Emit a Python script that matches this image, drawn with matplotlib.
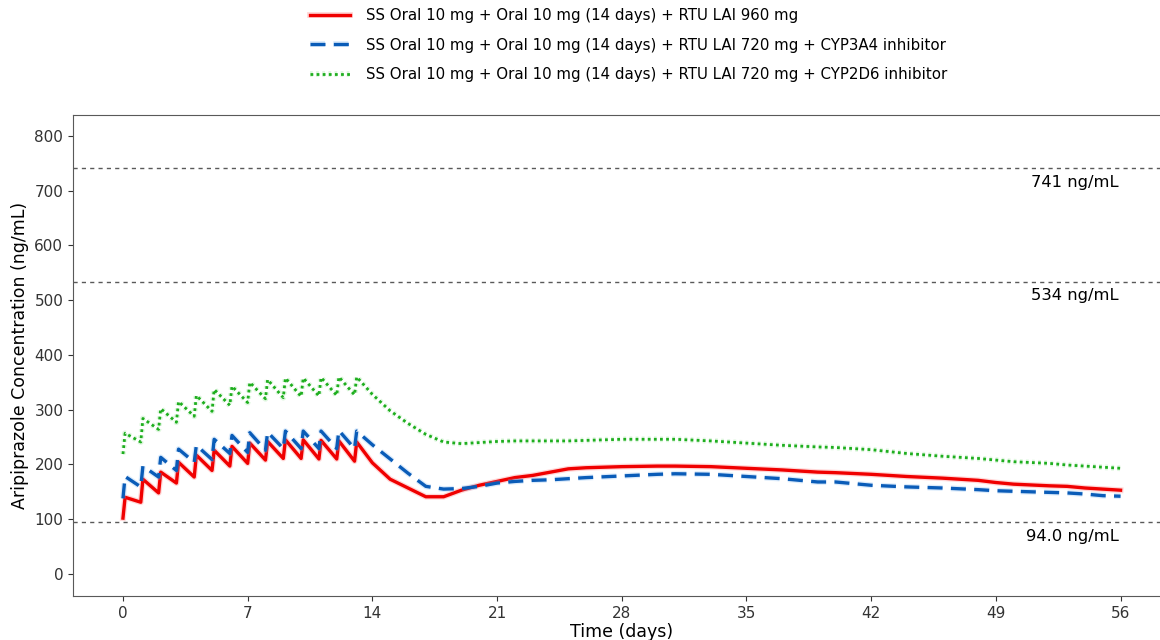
import matplotlib
matplotlib.use('Agg')
import matplotlib.pyplot as plt
import matplotlib.patheffects as pe

# time points: daily oral doses (trough, then peak just after dose), then LAI phase
days = [0, 0.12, 1, 1.12, 2, 2.12, 3, 3.12, 4, 4.12, 5, 5.12, 6, 6.12,
        7, 7.12, 8, 8.12, 9, 9.12, 10, 10.12, 11, 11.12, 12, 12.12, 13, 13.12,
        14, 15, 16, 17, 18, 19, 20, 21, 22, 23, 24, 25, 26, 28, 30, 31, 33,
        35, 37, 39, 40, 42, 44, 46, 48, 49, 50, 52, 53, 54, 55, 56]

lai_960 = [102, 140, 131, 173, 148, 186, 166, 204, 177, 217, 189, 226, 197, 233,
           202, 239, 208, 242, 211, 245, 211, 245, 210, 244, 210, 243, 206, 241,
           203, 173, 157, 141, 141, 153, 162, 169, 176, 180, 186, 192, 194, 196, 197, 197, 196,
           193, 190, 186, 185, 182, 178, 175, 171, 167, 164, 161, 160, 157, 155, 153]

lai_720_3a4 = [138, 178, 159, 197, 177, 213, 189, 228, 204, 235, 209, 246, 220, 253,
               222, 258, 226, 259, 229, 261, 229, 261, 229, 261, 229, 262, 229, 261,
               236, 210, 184, 160, 155, 156, 160, 166, 169, 171, 172, 174, 176, 179, 182, 183, 182,
               178, 174, 168, 168, 162, 159, 157, 154, 152, 151, 149, 148, 146, 143, 142]

lai_720_2d6 = [219, 257, 241, 284, 264, 302, 277, 315, 288, 326, 297, 337, 308, 343,
               313, 350, 320, 355, 322, 358, 324, 358, 325, 359, 326, 360, 327, 360,
               328, 298, 275, 255, 241, 238, 240, 242, 243, 243, 243, 243, 244, 246, 246, 246, 243,
               239, 235, 232, 231, 227, 220, 215, 211, 208, 205, 202, 199, 197, 195, 193]

labels = ['SS Oral 10 mg + Oral 10 mg (14 days) + RTU LAI 960 mg',
          'SS Oral 10 mg + Oral 10 mg (14 days) + RTU LAI 720 mg + CYP3A4 inhibitor',
          'SS Oral 10 mg + Oral 10 mg (14 days) + RTU LAI 720 mg + CYP2D6 inhibitor']

ref_levels = [741, 534, 94.0]
ref_texts = ['741 ng/mL', '534 ng/mL', '94.0 ng/mL']

fig = plt.figure(figsize=(11.6, 6.4), dpi=100)
ax = fig.add_axes([0.063, 0.069, 0.946, 0.751])

def halo(color):
    return [pe.Stroke(linewidth=4.2, foreground=color, alpha=0.25), pe.Normal()]

ax.plot(days, lai_960, color='#f00000', lw=2.4, label=labels[0],
        path_effects=halo('#ff6060'))
ax.plot(days, lai_720_3a4, color='#0a5cb8', lw=2.4, ls=(0, (4.5, 2.5)), label=labels[1],
        path_effects=halo('#70b0f0'))
ax.plot(days, lai_720_2d6, color='#1fae1f', lw=2.0, ls=(0, (1, 1.2)), label=labels[2],
        path_effects=halo('#80e080'))

for lvl, txt in zip(ref_levels, ref_texts):
    ax.axhline(lvl, color='0.35', lw=1.0, ls=(0, (3, 3)))
    ax.text(55.9, lvl - 12, txt, ha='right', va='top', fontsize=11.8,
            fontweight='medium', color='black')

ax.set_xlim(-2.8, 58.8)
ax.set_ylim(-40, 838)
ax.set_xticks([0, 7, 14, 21, 28, 35, 42, 49, 56])
ax.set_yticks(range(0, 801, 100))
ax.tick_params(labelsize=11, colors='0.2')
for s in ax.spines.values():
    s.set_color('0.35')
ax.set_xlabel('Time (days)', fontsize=12.5, labelpad=2)
ax.set_ylabel('Aripiprazole Concentration (ng/mL)', fontsize=12.5, labelpad=4)

fig.legend(loc='upper center', bbox_to_anchor=(0.542, 1.008), frameon=False,
           fontsize=10.8, handlelength=2.7, handletextpad=1.05, labelspacing=0.95)

# title sits mostly above the visible canvas, only descenders show
fig.text(150 / 1160, 1.012, 'Average Plasma Aripiprazole Concentration',
         ha='left', va='baseline', fontsize=16, fontweight='bold')

fig.savefig('out.png', dpi=100)
